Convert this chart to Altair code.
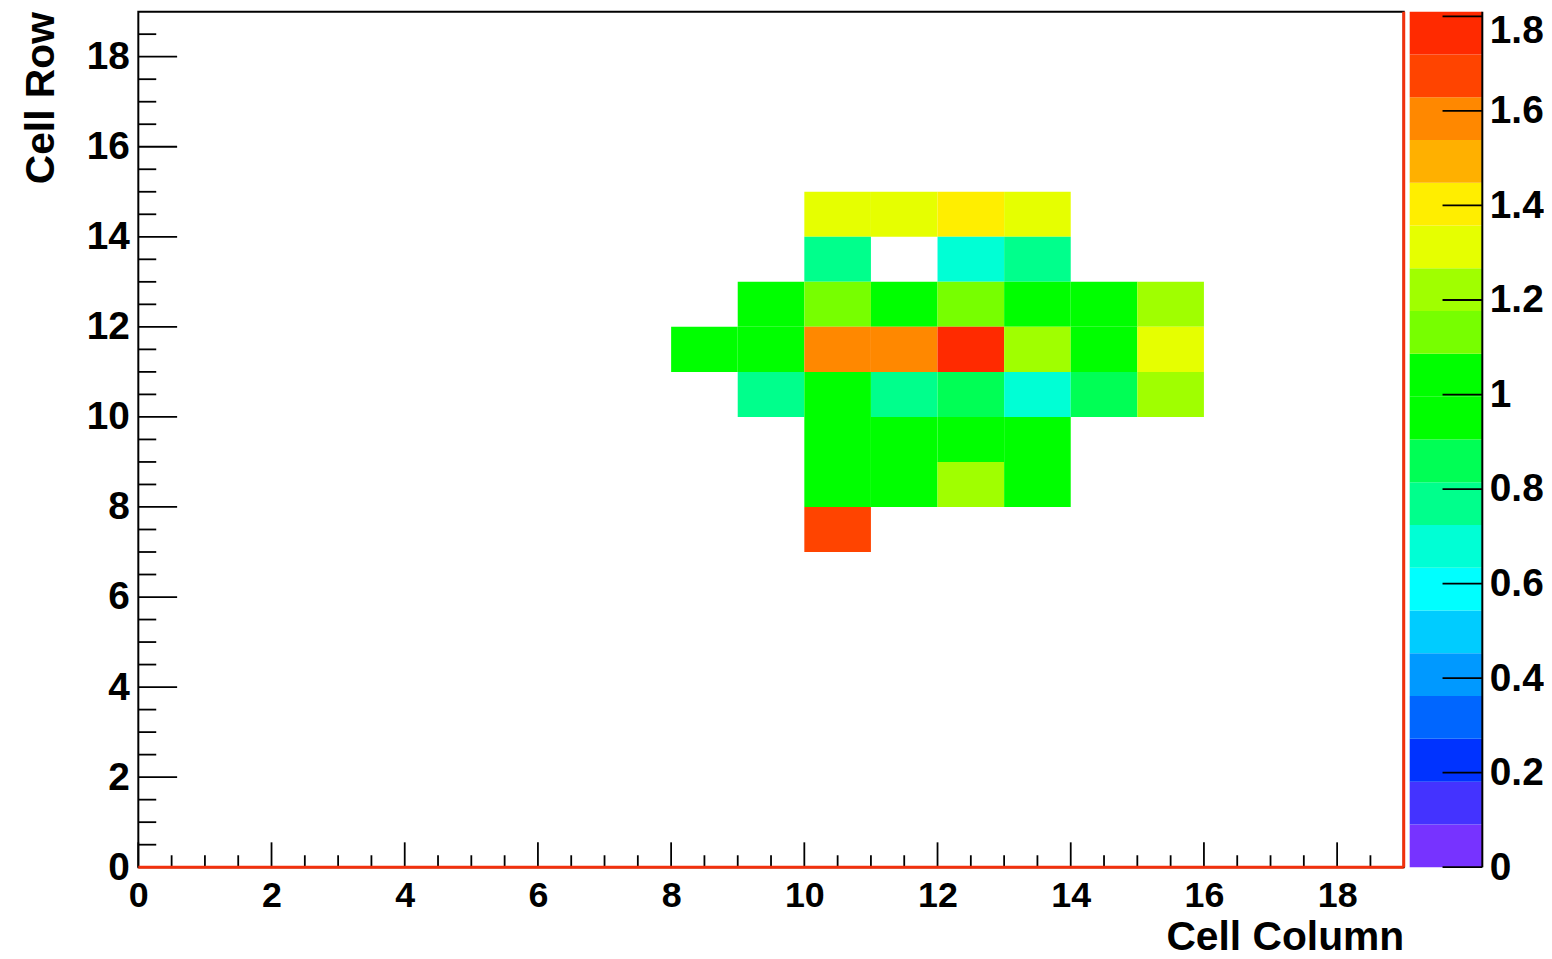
import altair as alt
import pandas as pd

# ---------------- data ----------------
COLS = [10, 11, 12, 13,
        10, 12, 13,
        9, 10, 11, 12, 13, 14, 15,
        8, 9, 10, 11, 12, 13, 14, 15,
        9, 10, 11, 12, 13, 14, 15,
        10, 11, 12, 13,
        10, 11, 12, 13,
        10]
ROWS = [14, 14, 14, 14,
        13, 13, 13,
        12, 12, 12, 12, 12, 12, 12,
        11, 11, 11, 11, 11, 11, 11, 11,
        10, 10, 10, 10, 10, 10, 10,
        9, 9, 9, 9,
        8, 8, 8, 8,
        7]
VALUES = [1.33, 1.31, 1.42, 1.34,
          0.78, 0.69, 0.79,
          1.02, 1.14, 0.98, 1.15, 1.05, 1.01, 1.23,
          0.97, 1.03, 1.60, 1.58, 1.81, 1.24, 1.06, 1.33,
          0.78, 1.00, 0.77, 0.86, 0.68, 0.87, 1.22,
          1.04, 0.99, 1.02, 0.96,
          1.01, 0.97, 1.21, 1.03,
          1.69]

XMAX = 19
YMAX = 19
ZMAX = 1.81

# colour palette of the z axis, bottom to top (20 levels)
PALETTE = ["#7733ff", "#4433ff", "#0033ff", "#0066ff", "#0099ff",
           "#00ccff", "#00ffff", "#00ffd5", "#00ff8c", "#00ff55",
           "#00ff00", "#00ff00", "#77ff00", "#a0ff00", "#e6ff00",
           "#ffee00", "#ffb000", "#ff8800", "#ff4400", "#ff2a00"]

X_LABELS = [0, 2, 4, 6, 8, 10, 12, 14, 16, 18]
Y_LABELS = [0, 2, 4, 6, 8, 10, 12, 14, 16, 18]
Z_LABELS = [0, 0.2, 0.4, 0.6, 0.8, 1, 1.2, 1.4, 1.6, 1.8]
X_MINOR = [h / 2 for h in range(1, 2 * XMAX) if h % 4 != 0]
Y_MINOR = [h / 2 for h in range(1, 2 * YMAX) if h % 4 != 0]

# ---------------- layout ----------------
W, H = 1272, 860
CB_W = 73
FONT = "Liberation Sans"

cells = pd.DataFrame({"col": COLS, "row": ROWS, "v": VALUES})
nlev = len(PALETTE)
bands = pd.DataFrame({
    "lo": [i * ZMAX / nlev for i in range(nlev)],
    "hi": [(i + 1) * ZMAX / nlev for i in range(nlev)],
})
bands["mid"] = (bands["lo"] + bands["hi"]) / 2

XS = alt.Scale(domain=[0, XMAX], nice=False, zero=False)
YS = alt.Scale(domain=[0, YMAX], nice=False, zero=False)
ZS = alt.Scale(domain=[0, ZMAX], nice=False, zero=False)
CS = alt.Scale(type="quantize", domain=[0, ZMAX], range=PALETTE, nice=False, zero=False)

XAXIS = alt.Axis(values=X_LABELS, format="d", title="Cell Column",
                 labelFontSize=36, labelPadding=12, ticks=False, domain=False,
                 grid=False, labelFlush=False, labelOverlap=False,
                 titleFontSize=41, titleX=W, titleY=83, titleAlign="right",
                 titleBaseline="alphabetic")
YAXIS = alt.Axis(values=Y_LABELS, format="d", title="Cell Row",
                 labelFontSize=39, labelPadding=9, ticks=False, domain=False,
                 grid=False, labelFlush=False, labelOverlap=False,
                 titleFontSize=41, titleAngle=270, titleX=-85, titleY=0,
                 titleAlign="right", titleBaseline="alphabetic")

heat = alt.Chart(cells).mark_rect().transform_calculate(
    c2="datum.col + 1", r2="datum.row + 1"
).encode(
    x=alt.X("col:Q", scale=XS, axis=XAXIS),
    x2="c2:Q",
    y=alt.Y("row:Q", scale=YS, axis=YAXIS),
    y2="r2:Q",
    color=alt.Color("v:Q", scale=CS, legend=None),
)

def xticks(vals, length):
    return alt.Chart(pd.DataFrame({"col": vals})).mark_rule(
        color="black", strokeWidth=1.8
    ).encode(
        x=alt.X("col:Q", scale=XS),
        y=alt.value(H), y2=alt.value(H - length),
    )

def yticks(vals, length):
    return alt.Chart(pd.DataFrame({"row": vals})).mark_rule(
        color="black", strokeWidth=1.8
    ).encode(
        y=alt.Y("row:Q", scale=YS),
        x=alt.value(0), x2=alt.value(length),
    )

edges = pd.DataFrame({"col": [0, XMAX], "c2": [XMAX, XMAX],
                      "row": [0, 0], "r2": [0, YMAX]})
red = alt.Chart(edges).mark_rule(color="#f2300c", strokeWidth=3).encode(
    x=alt.X("col:Q", scale=XS), x2="c2:Q",
    y=alt.Y("row:Q", scale=YS), y2="r2:Q",
)

main = alt.layer(
    heat,
    xticks(X_LABELS, 25), xticks(X_MINOR, 12),
    yticks(Y_LABELS, 39), yticks(Y_MINOR, 18),
    red,
).properties(width=W, height=H,
             view=alt.ViewBackground(stroke="black", strokeWidth=2))

ZAXIS = alt.Axis(orient="right", values=Z_LABELS, format="~g", title=None,
                 labelFontSize=39, labelPadding=7, ticks=False, domain=False,
                 grid=False, labelFlush=False, labelOverlap=False,
                 labelOffset={"condition": {"test": "datum.value > 1.75", "value": 14},
                              "value": 0})

cb_bar = alt.Chart(bands).mark_rect().encode(
    y=alt.Y("lo:Q", scale=ZS, axis=ZAXIS),
    y2="hi:Q",
    color=alt.Color("mid:Q", scale=CS, legend=None),
)
cb_ticks = alt.Chart(pd.DataFrame({"lo": Z_LABELS})).mark_rule(
    color="black", strokeWidth=1.8
).encode(
    y=alt.Y("lo:Q", scale=ZS),
    x=alt.value(CB_W - 40), x2=alt.value(CB_W),
)
cb_edge = alt.Chart(pd.DataFrame({"lo": [0], "hi": [ZMAX]})).mark_rule(
    color="black", strokeWidth=2
).encode(
    y=alt.Y("lo:Q", scale=ZS), y2="hi:Q",
    x=alt.value(CB_W),
)
colorbar = alt.layer(cb_bar, cb_ticks, cb_edge).properties(width=CB_W, height=H)

chart = alt.hconcat(main, colorbar, spacing=3).properties(
    padding={"left": 12, "top": -1.8, "right": 0, "bottom": 0},
    background="white",
).configure_view(stroke=None).configure_axis(
    labelFont=FONT, titleFont=FONT, labelFontWeight="bold",
    titleFontWeight="bold", labelColor="black", titleColor="black",
).configure_concat(spacing=3)

chart.save("out.html", embed_options={"renderer": "svg", "actions": False})
